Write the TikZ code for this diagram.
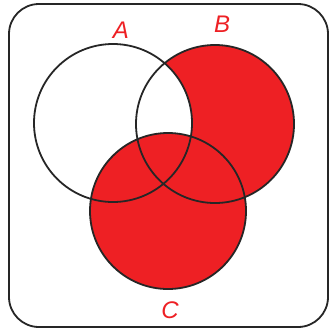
\documentclass[tikz,border=0pt]{standalone}
\usepackage{fontspec}
\setmainfont{Liberation Sans}
\definecolor{marker}{RGB}{238,32,36}
\begin{document}
\begin{tikzpicture}[x=1pt,y=-1pt,
  outline/.style={draw=black!85,line width=1.8pt},
  lbl/.style={text=marker,font=\itshape\fontsize{24}{24}\selectfont}]
\useasboundingbox (0,0) rectangle (331,330);
\fill[white] (0,0) rectangle (331,330);
% shading: (B minus A) union C
\begin{scope}
  \clip (215,124) circle (79);
  \fill[marker] (215,124) circle (79);
  \fill[white] (113,123) circle (79);
\end{scope}
\fill[marker] (168,211) circle (78);
% outlines
\draw[outline,rounded corners=30] (9,4) rectangle (328,327);
\draw[outline] (113,123) circle (79);
\draw[outline] (215,124) circle (79);
\draw[outline] (168,211) circle (78);
% labels
\node[lbl] (la) at (121,30) {A};
\node[lbl] (lb) at (222,24) {B};
\node[lbl] (lc) at (170,310) {C};
\end{tikzpicture}
\end{document}
